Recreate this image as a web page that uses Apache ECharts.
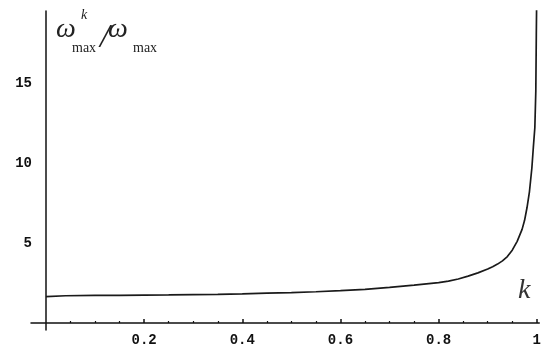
<!DOCTYPE html>
<html>
<head>
<meta charset="utf-8">
<script src="https://cdn.jsdelivr.net/npm/echarts@6/dist/echarts.min.js"></script>
<style>
  html, body { margin: 0; padding: 0; background: #fff; }
  #chart { width: 544px; height: 349px; }
</style>
</head>
<body>
<div id="chart"></div>
<script>
// Ratio of maximum frequencies as a function of k
const kValues = [0, 0.04, 0.1, 0.15, 0.2, 0.25, 0.3, 0.35, 0.4, 0.45, 0.5, 0.55, 0.6, 0.65,
  0.7, 0.75, 0.8, 0.82, 0.84, 0.86, 0.88, 0.9, 0.91, 0.92, 0.93, 0.94, 0.95, 0.96,
  0.97, 0.975, 0.98, 0.985, 0.99, 0.993, 0.996, 0.998, 0.999, 1.0];
const ratio = [1.65, 1.70, 1.72, 1.73, 1.74, 1.75, 1.77, 1.79, 1.82, 1.86, 1.90, 1.95, 2.02, 2.10,
  2.22, 2.36, 2.52, 2.62, 2.75, 2.93, 3.13, 3.37, 3.52, 3.68, 3.88, 4.15, 4.55, 5.1,
  5.85, 6.4, 7.2, 8.2, 9.7, 11.0, 12.2, 14.5, 18.0, 21.0];

const xMajorTicks = [0.2, 0.4, 0.6, 0.8, 1];
const xMinorTicks = [0.05, 0.1, 0.15, 0.25, 0.3, 0.35, 0.45, 0.5, 0.55, 0.65, 0.7, 0.75, 0.85, 0.9, 0.95];
const yTickLabels = [5, 10, 15];

const tickFont = { fontFamily: 'Liberation Mono', fontWeight: 'bold', fontSize: 14, color: '#111' };
const axisLineStyle = { color: '#111', width: 1.5 };

const chart = echarts.init(document.getElementById('chart'), null, { renderer: 'canvas' });

// The axes cross at the origin; the ranges reach slightly past zero so the
// axis lines overhang, and the offsets move each axis onto the zero line.
chart.setOption({
  animation: false,
  backgroundColor: '#fff',
  grid: { left: 31, right: 4, top: 11, bottom: 19, containLabel: false },
  xAxis: [
    {
      type: 'value', min: -0.0305, max: 1.005, position: 'bottom', offset: -7,
      axisLine: { onZero: false, lineStyle: axisLineStyle },
      axisTick: { show: true, inside: true, length: 4, customValues: xMajorTicks, lineStyle: { color: '#111', width: 1.5 } },
      axisLabel: Object.assign({ customValues: xMajorTicks, margin: 10, formatter: v => String(v) }, tickFont),
      splitLine: { show: false }
    },
    {
      type: 'value', min: -0.0305, max: 1.005, position: 'bottom', offset: -7,
      axisLine: { show: false, onZero: false },
      axisTick: { show: true, inside: true, length: 2, customValues: xMinorTicks, lineStyle: { color: '#111', width: 1.2 } },
      axisLabel: { show: false },
      splitLine: { show: false }
    }
  ],
  yAxis: {
    type: 'value', min: -0.44, max: 19.5, position: 'left', offset: -15,
    axisLine: { onZero: false, lineStyle: axisLineStyle },
    axisTick: { show: false },
    axisLabel: Object.assign({ customValues: yTickLabels, margin: 14 }, tickFont),
    splitLine: { show: false }
  },
  series: [{
    type: 'line',
    xAxisIndex: 0,
    data: kValues.map((k, i) => [k, ratio[i]]),
    showSymbol: false,
    smooth: false,
    clip: true,
    lineStyle: { color: '#1a1a1a', width: 1.7 }
  }],
  graphic: [
    { type: 'text', left: 56, top: 16, style: { text: 'ω', font: 'italic 28px "Liberation Serif"', fill: '#222' } },
    { type: 'text', left: 81, top: 8, style: { text: 'k', font: 'italic 14px "Liberation Serif"', fill: '#222' } },
    { type: 'text', left: 72, top: 41, style: { text: 'max', font: '14px "Liberation Serif"', fill: '#222' } },
    { type: 'text', left: 100, top: 21, style: { text: '/', font: 'italic 34px "Liberation Serif"', fill: '#222' } },
    { type: 'text', left: 108, top: 16, style: { text: 'ω', font: 'italic 28px "Liberation Serif"', fill: '#222' } },
    { type: 'text', left: 133, top: 41, style: { text: 'max', font: '14px "Liberation Serif"', fill: '#222' } },
    { type: 'text', left: 518, top: 277, style: { text: 'k', font: 'italic 28px "Liberation Serif"', fill: '#333' } }
  ]
});
</script>
</body>
</html>
